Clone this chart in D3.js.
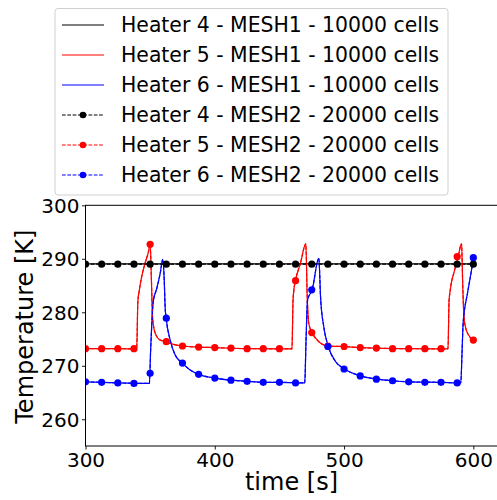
<!DOCTYPE html>
<html><head><meta charset="utf-8">
<script src="https://cdn.jsdelivr.net/npm/d3@7"></script>
<style>body{margin:0;background:#fff}svg{display:block}text{font-family:"DejaVu Sans",sans-serif}</style>
</head><body><svg id="c" width="497" height="500"></svg>
<script>
// ---- data ----
const xTicks = [300, 400, 500, 600];
const yTicks = [260, 270, 280, 290, 300];
const legendLabels = [
  "Heater 4 - MESH1 - 10000 cells",
  "Heater 5 - MESH1 - 10000 cells",
  "Heater 6 - MESH1 - 10000 cells",
  "Heater 4 - MESH2 - 20000 cells",
  "Heater 5 - MESH2 - 20000 cells",
  "Heater 6 - MESH2 - 20000 cells"
];
// MESH1 (solid lines)
const h4Time = [300, 600];
const h4Mesh1 = [289.05, 289.05];
const h5Time = [300,325,339.6,340.5,341.5,343.5,346.1,348.7,350.0,351.0,351.8,353.9,357.8,362.4,368,375,387.5,400,425,
  459.7,460.5,461.1,462.4,466.3,470.4,471.5,472.7,475.3,480.5,487.8,500,512.5,525,550,
  580.4,581.2,582.0,585.5,588.2,590.9,591.8,592.9,595.5,600];
const h5Mesh1 = [273.2,273.2,273.15,282,283.9,286.7,289.2,291.3,292.8,286,279.2,276.1,274.8,274.5,274.0,273.7,273.5,273.4,273.2,
  273.15,282,284.0,285.9,289.2,292.8,282.9,277.9,276.2,274.5,273.7,273.6,273.4,273.3,273.2,
  273.15,282,283.9,287.9,290.4,292.8,285,278.6,276.1,274.8];
const h6Time = [300,312.5,325,349.4,350.4,352.4,355.2,357.8,359.8,360.9,361.6,362.4,365.5,369.4,375,381,387.5,400,412.5,425,437.5,450,
  469.6,470.5,471.8,475.3,480.5,481.8,484.3,487.8,493.4,500.4,512.8,525.7,537.5,550,575,
  590.3,591.2,592.1,595.5,598.6,600];
const h6Mesh1 = [267.0,266.9,266.8,266.7,273,282.0,284.5,287.3,289.9,286.0,281.0,278.9,274.8,272.0,270.5,269.2,268.4,267.7,267.3,267.1,266.9,266.9,
  266.8,274,282.3,284.2,290.1,282.9,277.3,273.6,270.8,269.4,268.1,267.5,267.2,267.0,266.9,
  266.8,272,277.9,283.6,287.9,290.1];
// MESH2 (dashed, with markers every 12.5 s)
const markTime = [300,312.5,325,337.5,350,362.5,375,387.5,400,412.5,425,437.5,450,462.5,475,487.5,500,512.5,525,537.5,550,562.5,575,587.5,600];
const h4Mesh2 = [289.0,289.0,289.0,289.0,289.0,289.0,289.0,289.0,289.0,289.0,289.0,289.0,289.0,289.0,289.0,289.0,289.0,289.0,289.0,289.0,289.0,289.0,289.0,289.0,289.0];
const h5Mesh2 = [273.2,273.2,273.2,273.2,292.7,274.5,273.7,273.5,273.4,273.3,273.2,273.2,273.2,285.9,276.2,273.7,273.6,273.4,273.3,273.2,273.2,273.2,273.2,290.4,274.8];
const h6Mesh2 = [267.0,266.9,266.8,266.7,268.6,278.9,270.5,268.4,267.7,267.3,267.1,266.9,266.9,266.8,284.2,273.6,269.4,268.1,267.5,267.2,267.0,266.9,266.9,266.8,290.2];

const colors = ["#000000", "#ff0000", "#0000ff"];

// ---- drawing ----
const svg = d3.select("#c");
const L = 85.5, R = 497, T = 205.3, B = 446;
const x = d3.scaleLinear().domain([300, 618.3]).range([L, R]);
const y = d3.scaleLinear().domain([255, 300]).range([B, T]);

const line = d3.line().x(d => x(d[0])).y(d => y(d[1])).curve(d3.curveMonotoneX);
const zip = (a, b) => a.map((v, i) => [v, b[i]]);

const g = svg.append("g");
g.append("clipPath").attr("id", "clip").append("rect")
  .attr("x", L).attr("y", T).attr("width", R - L).attr("height", B - T);
const plot = g.append("g").attr("clip-path", "url(#clip)");

const mesh1 = [zip(h4Time, h4Mesh1), zip(h5Time, h5Mesh1), zip(h6Time, h6Mesh1)];
const mesh2Marks = [zip(markTime, h4Mesh2), zip(markTime, h5Mesh2), zip(markTime, h6Mesh2)];
const mesh2Lines = [zip(markTime, h4Mesh2), zip(h5Time, h5Mesh1), zip(h6Time, h6Mesh1)];

mesh1.forEach((d, i) => {
  plot.append("path").attr("d", line(d)).attr("fill", "none")
    .attr("stroke", colors[i]).attr("stroke-width", 1.2);
});
mesh2Lines.forEach((d, i) => {
  plot.append("path").attr("d", line(d)).attr("fill", "none")
    .attr("stroke", colors[i]).attr("stroke-width", 1.2).attr("stroke-dasharray", "3.7,1.6");
});
mesh2Marks.forEach((d, i) => {
  plot.selectAll(null).data(d).enter().append("circle")
    .attr("cx", p => x(p[0])).attr("cy", p => y(p[1])).attr("r", 3.6)
    .attr("fill", colors[i]);
});

// axes
const xAxis = d3.axisBottom(x).tickValues(xTicks).tickSize(3.5).tickPadding(3.5);
const yAxis = d3.axisLeft(y).tickValues(yTicks).tickSize(3.5).tickPadding(2.5);
const gx = g.append("g").attr("transform", `translate(0,${B})`).call(xAxis);
const gy = g.append("g").attr("transform", `translate(${L},0)`).call(yAxis);
[gx, gy].forEach(a => {
  a.select(".domain").remove();
  a.selectAll("text").attr("font-size", 20).attr("fill", "#000").attr("font-family", "DejaVu Sans");
  a.selectAll("line").attr("stroke", "#000").attr("stroke-width", 0.9);
});
gy.selectAll("text").attr("dy", "0.36em");
// spines
g.append("rect").attr("x", L).attr("y", T).attr("width", R - L + 5).attr("height", B - T)
  .attr("fill", "none").attr("stroke", "#000").attr("stroke-width", 1);

svg.append("text").attr("x", 291.5).attr("y", 490).attr("text-anchor", "middle")
  .attr("font-size", 24).text("time [s]");
svg.append("text").attr("transform", `translate(33,${(T + B) / 2 + 1}) rotate(-90)`)
  .attr("text-anchor", "middle").attr("font-size", 24).text("Temperature [K]");

// legend
const lg = svg.append("g");
lg.append("rect").attr("x", 55).attr("y", 8.5).attr("width", 393).attr("height", 186.5)
  .attr("rx", 3).attr("fill", "#fff").attr("fill-opacity", 0.8)
  .attr("stroke", "#d0d0d0").attr("stroke-width", 1);
legendLabels.forEach((lab, i) => {
  const yy = 25 + i * 30;
  const c = colors[i % 3];
  const dashed = i >= 3;
  lg.append("line").attr("x1", 62).attr("x2", 104).attr("y1", yy).attr("y2", yy)
    .attr("stroke", c).attr("stroke-width", 1.2)
    .attr("stroke-dasharray", dashed ? "3.7,1.6" : null);
  if (dashed) lg.append("circle").attr("cx", 83).attr("cy", yy).attr("r", 3.3).attr("fill", c);
  lg.append("text").attr("x", 121).attr("y", yy).attr("dy", "0.36em")
    .attr("font-size", 20.4).attr("fill", "#000").text(lab);
});
</script>
</body></html>
